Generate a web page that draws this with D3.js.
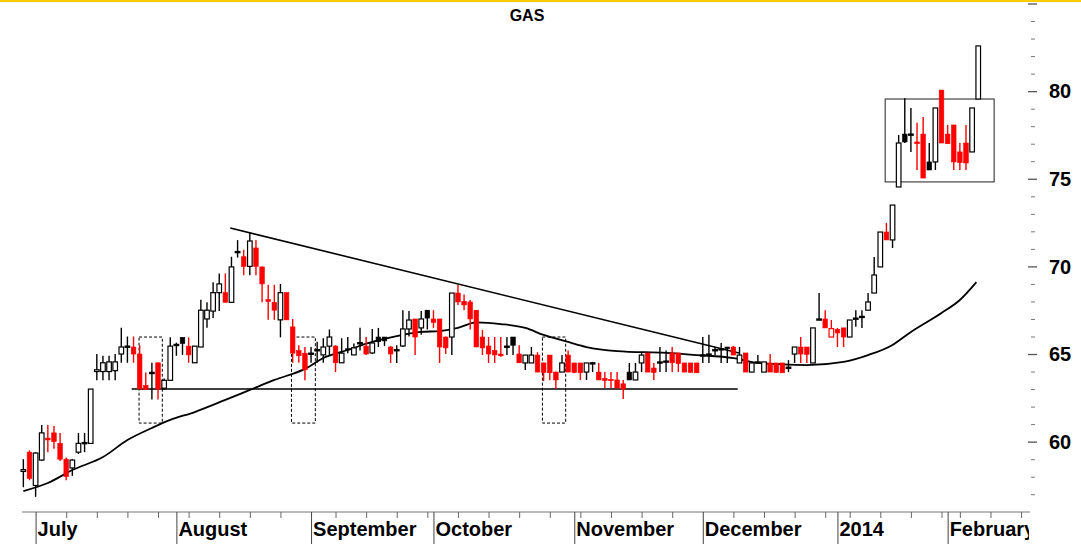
<!DOCTYPE html>
<html><head><meta charset="utf-8">
<script src="https://cdn.jsdelivr.net/npm/d3@7"></script>
<style>
html,body{margin:0;padding:0;background:#fff;overflow:hidden;}
svg{display:block;}
text{font-family:"Liberation Sans",Arial,sans-serif;font-weight:bold;fill:#000;}
</style></head><body>
<svg id="chart" width="1081" height="544"></svg>
<script>
// ---- data (trading-day index based) ----
const title = "GAS";
const opens = [58.3,59.4,57.5,58.95,60.2,60.5,59.9,59.0,58.5,59.4,59.9,59.9,64.0,64.0,64.0,64.05,65.0,65.4,65.4,65.0,
63.2,63.9,64.5,63.05,63.5,65.5,65.95,65.45,64.5,65.4,67.0,67.45,68.5,68.5,67.95,70.8,70.55,70.0,71.05,69.97,
68.1,67.95,66.95,68.5,66.55,65.2,65.05,65.0,65.2,64.95,65.45,65.45,64.5,65.3,64.95,65.6,65.45,65.06,65.97,65.97,
65.4,65.2,65.46,66.43,67.0,66.49,67.5,67.0,67.0,65.97,65.97,68.48,68.0,67.97,67.5,65.97,65.46,65.2,65.0,65.4,
65.97,65.0,64.49,64.49,64.94,64.49,64.94,63.97,63.97,64.94,64.49,64.49,63.97,64.49,63.97,63.6,63.55,63.52,63.3,63.97,
63.52,64.49,65.06,64.2,64.5,64.55,65.06,65.06,64.49,64.49,64.49,64.9,64.95,65.2,65.25,65.4,65.4,64.49,65.06,63.97,
64.5,63.97,64.49,64.49,64.49,64.2,65.0,65.4,65.4,64.49,66.95,67.0,65.97,66.4,66.49,65.97,67.0,67.1,67.5,68.48,69.97,
71.96,71.51,74.53,77.55,77.5,77.1,77.55,75.96,75.96,80.06,77.55,78.07,76.53,77.04,76.53,79.55];
const highs = [59.0,59.5,59.4,60.95,60.95,60.9,60.5,59.1,59.0,60.5,60.5,63.0,65.0,64.9,64.9,65.0,66.5,66.0,66.0,65.5,
63.95,64.5,64.5,63.6,65.95,65.65,65.95,65.95,65.45,68.1,67.95,69.1,69.6,69.6,70.55,71.5,70.95,71.95,71.5,70.0,
68.95,68.95,69.0,68.5,67.0,65.5,65.4,65.4,65.7,65.9,66.4,65.5,65.9,65.97,65.6,66.5,65.97,66.43,66.49,65.97,
65.45,65.5,67.5,67.45,67.0,67.45,67.5,67.5,67.0,66.0,68.48,68.94,68.4,68.08,67.5,66.37,65.97,65.97,65.97,65.97,
65.97,65.5,64.94,65.4,65.1,64.5,64.94,64.0,64.94,65.2,64.49,64.49,64.49,64.55,64.49,63.97,63.97,63.97,63.52,64.49,
64.49,65.06,65.06,64.49,65.4,65.2,65.4,65.06,64.49,64.49,64.49,65.97,66.1,65.4,65.63,65.4,65.46,65.4,65.06,64.49,
64.94,64.55,65.0,64.49,64.49,64.65,65.4,65.97,65.4,66.49,68.48,67.5,66.94,66.49,66.49,66.94,67.5,67.5,68.48,70.54,71.96,
72.48,73.5,77.5,79.6,79.04,78.2,78.52,77.04,79.04,80.06,78.07,78.07,77.04,78.07,79.04,82.58];
const lows = [57.4,57.8,56.85,58.9,59.4,59.6,58.9,57.8,58.05,59.3,59.4,59.9,63.5,63.5,63.5,63.5,64.5,64.5,64.5,63.0,
62.95,62.4,62.4,62.95,63.5,64.9,64.95,64.5,64.5,65.4,66.5,67.05,67.45,67.95,67.95,70.5,69.5,69.5,69.5,67.95,
66.95,66.95,65.95,66.95,64.5,64.5,63.5,64.5,64.5,64.5,64.95,63.97,64.5,65.05,64.95,65.2,64.95,65.0,65.4,65.45,
64.49,64.49,65.4,66.0,64.94,66.1,66.4,66.49,64.49,65.0,64.94,67.8,67.5,66.4,65.4,64.94,64.49,64.49,64.85,64.94,
64.94,64.49,64.09,64.49,63.97,63.46,63.5,63.0,63.97,63.97,63.9,63.52,63.52,63.97,63.52,63.06,63.06,63.06,62.43,63.52,
63.52,63.97,63.97,63.52,63.97,63.97,63.97,63.97,63.97,63.95,63.93,64.49,64.49,64.94,64.49,64.49,64.94,64.49,63.97,63.97,
64.49,63.97,63.97,63.95,63.93,63.97,64.49,64.49,64.49,64.49,66.94,66.49,65.97,65.4,65.4,65.97,66.55,66.49,67.5,68.48,69.97,
71.51,71.05,74.53,77.04,76.53,75.5,75.04,75.5,75.5,77.04,77.0,75.5,75.5,75.5,76.53,79.55];
const closes = [58.4,57.9,59.35,60.5,60.1,60.0,59.0,58.0,58.95,59.9,59.95,63.0,64.1,64.5,64.55,64.55,65.4,65.45,65.0,63.0,
62.98,63.95,63.0,63.5,65.45,65.55,65.6,64.95,65.45,67.5,67.5,68.5,69.0,67.95,69.97,70.85,70.0,71.45,70.0,69.0,
68.0,67.5,68.5,66.95,65.05,64.9,64.1,65.05,65.25,65.4,65.97,64.5,65.05,65.3,65.35,65.65,65.0,65.63,65.7,65.75,
65.0,65.25,66.43,66.94,65.97,67.0,67.05,66.8,65.4,65.35,68.48,67.97,67.8,67.0,65.4,65.35,65.0,64.95,64.9,65.45,
65.5,64.5,64.94,64.94,63.97,63.95,63.93,63.52,64.49,63.97,63.95,63.93,64.49,64.5,63.52,63.5,63.48,63.06,63.0,63.52,
63.97,64.94,63.97,63.95,64.55,64.6,64.5,64.45,63.97,63.95,63.93,64.95,65.0,65.25,65.3,65.3,64.94,64.94,63.97,64.49,
64.55,64.55,63.97,63.95,63.93,64.25,65.4,65.0,64.98,66.49,67.0,66.49,66.45,66.2,65.97,66.94,67.05,67.15,67.97,69.51,71.96,
71.51,73.5,77.04,77.1,77.55,77.0,75.04,75.5,79.04,77.04,77.0,75.96,75.93,75.9,79.04,82.58];
const prevCloseBeforeFirst = 58.0;

const maIdx = [0,4,8,13,17,21,24,28,33,37,41,46,49,53,57,62,65,68,71,74,78,82,85,89,92,97,105,110,116,120,123,128,134,138,142,145,150,153,155.7];
const maVal = [57.18,57.64,58.38,59.12,60.09,60.78,61.24,61.69,62.38,62.95,63.52,64.15,64.77,65.23,65.69,66.09,66.26,66.31,66.49,66.8,66.71,66.49,66.09,65.69,65.4,65.17,65.06,64.94,64.77,64.49,64.43,64.37,64.55,64.94,65.52,66.26,67.34,68.08,69.1];

// drawn annotations (index, value)
const trendIdx = [33.8, 116.9];
const trendVal = [72.19, 65.06];
const supportIdx = [17.7, 116.7];
const supportVal = [63.0, 63.0];
const dashedBoxIdx = [[18.9, 22.7], [43.8, 47.7], [84.8, 88.6]];
const dashedBoxVal = [65.97, 61.06];
const solidBoxIdx = [140.8, 158.6];
const solidBoxVal = [79.55, 74.82];

// axis labels
const monthStartIdx = [2,25,47,67,90,111,133,151];
const monthLabels = ["July","August","September","October","November","December","2014","February"];
const weekTickIdx = [7,12,17,22,27,32,37,42,51,56,61,66,71,76,81,86,91,96,101,106,116,121,126,131,135,140,145,150,153,158,163];
const yMajorTicks = [60,65,70,75,80];

// ---- drawing ----
const svg = d3.select("#chart");
const W = 1081, H = 544;
const x = d3.scaleLinear().domain([0, 164]).range([23.36, 23.36 + 164*6.121]);
const y = d3.scaleLinear().domain([56.1, 85.2]).range([510, 0]);

// top yellow rule
svg.append("rect").attr("x",0).attr("y",0).attr("width",W).attr("height",2).attr("fill","#ffcc00");

// title
svg.append("text").attr("x",527).attr("y",21).attr("text-anchor","middle").style("font-size","16px").text(title);

// right axis ticks
const minorTicks = d3.range(57, 86);
const gy = svg.append("g").attr("transform","translate(1030,0)");
gy.call(d3.axisRight(y).tickValues(minorTicks.filter(v=>v%5!==0)).tickSize(4).tickFormat(""))
  .call(g=>g.select(".domain").remove())
  .call(g=>g.selectAll("line").attr("stroke","#777").attr("transform","translate(1,0)"));
const gy2 = svg.append("g").attr("transform","translate(1028,0)");
gy2.call(d3.axisRight(y).tickValues(minorTicks.filter(v=>v%5===0)).tickSize(9).tickFormat(""))
  .call(g=>g.select(".domain").remove())
  .call(g=>g.selectAll("line").attr("stroke","#555").attr("stroke-width",1.3));
svg.append("g").selectAll("text").data(yMajorTicks).join("text")
  .attr("x",1049).attr("y",d=>y(d)).attr("dy","0.36em")
  .style("font-size","20px").text(d=>d);

// bottom axis
const axisY = 512;
svg.append("line").attr("x1",22).attr("x2",1030).attr("y1",axisY).attr("y2",axisY).attr("stroke","#777").attr("stroke-width",1.2);
svg.append("g").attr("transform",`translate(0,${axisY})`)
  .call(d3.axisBottom(x).tickValues(weekTickIdx).tickSize(6).tickFormat(""))
  .call(g=>g.select(".domain").remove())
  .call(g=>g.selectAll("line").attr("stroke","#666"));
svg.append("g").attr("transform",`translate(0,${axisY})`)
  .call(d3.axisBottom(x).tickValues(monthStartIdx).tickSize(34).tickFormat(""))
  .call(g=>g.select(".domain").remove())
  .call(g=>g.selectAll("line").attr("stroke","#444"));
svg.append("clipPath").attr("id","xclip").append("rect").attr("x",0).attr("y",500).attr("width",1029).attr("height",44);
svg.append("g").attr("clip-path","url(#xclip)").selectAll("text").data(monthLabels).join("text")
  .attr("x",(d,i)=>x(monthStartIdx[i])+2).attr("y",536)
  .style("font-size","20px").text(d=>d);

// support & trend lines
const lineGen = d3.line().x(d=>x(d[0])).y(d=>y(d[1]));
svg.append("path").attr("d",lineGen(supportIdx.map((d,i)=>[d,supportVal[i]])))
  .attr("stroke","#000").attr("stroke-width",1.6).attr("fill","none");
svg.append("path").attr("d",lineGen(trendIdx.map((d,i)=>[d,trendVal[i]])))
  .attr("stroke","#000").attr("stroke-width",1.6).attr("fill","none");

// dashed boxes
dashedBoxIdx.forEach(b=>{
  svg.append("rect").attr("x",x(b[0])).attr("y",y(dashedBoxVal[0]))
    .attr("width",x(b[1])-x(b[0])).attr("height",y(dashedBoxVal[1])-y(dashedBoxVal[0]))
    .attr("fill","none").attr("stroke","#000").attr("stroke-width",1).attr("stroke-dasharray","3,2");
});
// solid box
svg.append("rect").attr("x",x(solidBoxIdx[0])).attr("y",y(solidBoxVal[0]))
  .attr("width",x(solidBoxIdx[1])-x(solidBoxIdx[0])).attr("height",y(solidBoxVal[1])-y(solidBoxVal[0]))
  .attr("fill","none").attr("stroke","#444").attr("stroke-width",1.2);

// moving average
svg.append("path").attr("d",d3.line().x(d=>x(d[0])).y(d=>y(d[1])).curve(d3.curveMonotoneX)(maIdx.map((d,i)=>[d,maVal[i]])))
  .attr("stroke","#000").attr("stroke-width",1.8).attr("fill","none");

// candles
const candles = opens.map((o,i)=>({i,o,h:highs[i],l:lows[i],c:closes[i],
  pc: i===0?prevCloseBeforeFirst:closes[i-1]}));
const bw = 4.6;
const cg = svg.append("g");
candles.forEach(d=>{
  const col = d.c < d.pc ? "#ff0000" : "#000000";
  const cx = x(d.i);
  cg.append("line").attr("x1",cx).attr("x2",cx).attr("y1",y(d.h)).attr("y2",y(d.l))
    .attr("stroke",col).attr("stroke-width",1.4);
  const top = y(Math.max(d.o,d.c)), bot = y(Math.min(d.o,d.c));
  const hgt = Math.max(1.2, bot-top);
  const hollow = d.c > d.o;
  cg.append("rect").attr("x",cx-bw/2).attr("y",top).attr("width",bw).attr("height",hgt)
    .attr("fill", hollow ? "#fff" : col)
    .attr("stroke", col).attr("stroke-width", hollow ? 1.2 : 0.6);
});
</script>
</body></html>
